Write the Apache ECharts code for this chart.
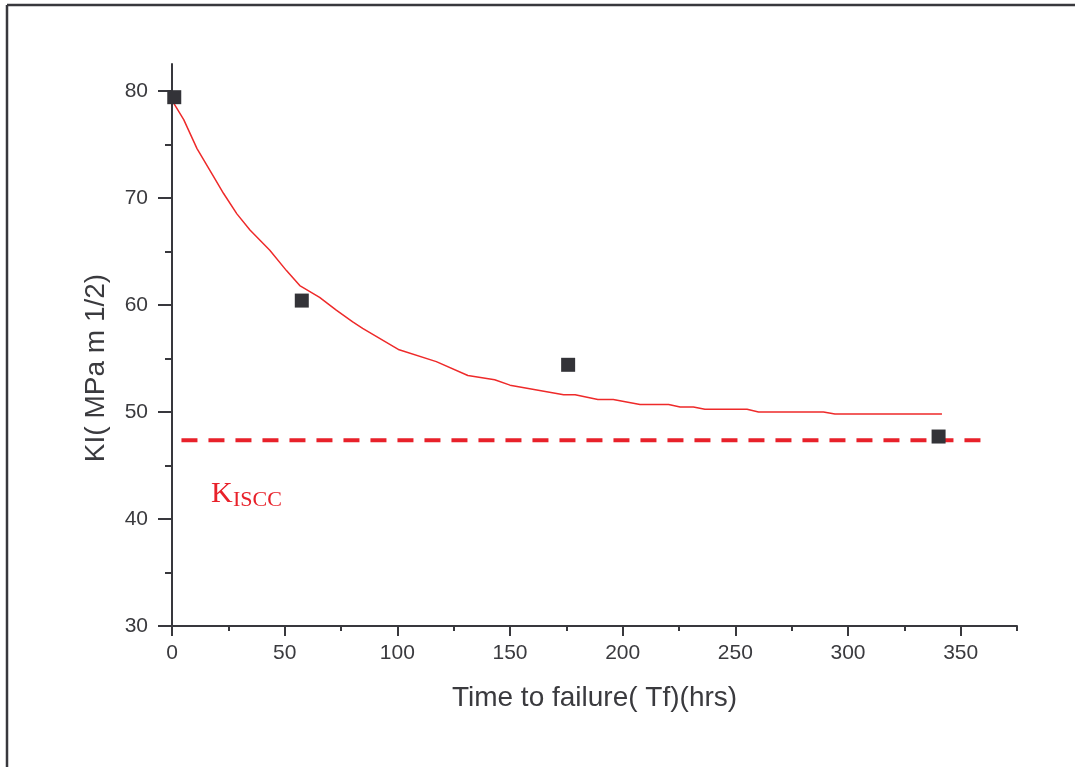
<!DOCTYPE html>
<html>
<head>
<meta charset="utf-8">
<script src="https://cdn.jsdelivr.net/npm/echarts@6/dist/echarts.min.js"></script>
<style>
html,body{margin:0;padding:0;background:#fff;}
#chart{width:1075px;height:767px;}
</style>
</head>
<body>
<div id="chart"></div>
<script>
// Measured data points (Time to failure, KI)
var measuredX = [1, 57.6, 175.8, 340.2];
var measuredY = [79.4, 60.4, 54.4, 47.7];

// Fitted curve
var fitX = [0, 5.2, 11.1, 18.4, 22.9, 28.8, 34.6, 43.4, 50.8, 56.7, 65.5, 72.9, 80.2, 84.6,
            100.8, 117.3, 131.3, 143.2, 150.0, 173.8, 178.9, 189.0, 195.8, 207.7, 220.4,
            225.5, 231.4, 236.5, 255.2, 260.3, 289.1, 294.2, 341.7];
var fitY = [79.1, 77.3, 74.6, 72.0, 70.4, 68.5, 67.0, 65.1, 63.2, 61.8, 60.7, 59.5, 58.4, 57.8,
            55.8, 54.7, 53.4, 53.0, 52.5, 51.6, 51.6, 51.15, 51.15, 50.7, 50.7,
            50.45, 50.45, 50.25, 50.25, 50.0, 50.0, 49.8, 49.8];

// KISCC threshold line
var kisccX = [4.2, 359.6];
var kisccY = [47.35, 47.35];

// Tick labels
var xTicks = [0, 50, 100, 150, 200, 250, 300, 350];
var xMinorTicks = [25, 75, 125, 175, 225, 275, 325, 375];
var yTicks = [30, 40, 50, 60, 70, 80];
var yMinorTicks = [35, 45, 55, 65, 75];

function pairs(xs, ys) {
  var out = [];
  for (var i = 0; i < xs.length; i++) out.push([xs[i], ys[i]]);
  return out;
}

var axisColor = '#38383d';
var labelFont = { fontFamily: 'Liberation Sans, Arial, sans-serif', fontSize: 21, color: '#3a3a3e' };

var chart = echarts.init(document.getElementById('chart'), null, { renderer: 'canvas' });
chart.setOption({
  backgroundColor: '#ffffff',
  animation: false,
  grid: { left: 172, right: 58, top: 64, bottom: 141, containLabel: false },
  xAxis: [{
    type: 'value', min: 0, max: 375,
    name: 'Time to failure( Tf)(hrs)',
    nameLocation: 'middle', nameGap: 58,
    nameTextStyle: { fontFamily: 'Liberation Sans, Arial, sans-serif', fontSize: 28, color: '#3a3a3e' },
    axisLine: { show: true, lineStyle: { color: axisColor, width: 2 } },
    axisTick: { show: true, length: 10, lineStyle: { color: axisColor, width: 2 }, customValues: xTicks },
    axisLabel: Object.assign({ margin: 17, customValues: xTicks }, labelFont),
    splitLine: { show: false }
  }, {
    type: 'value', min: 0, max: 375, position: 'bottom',
    axisLine: { show: false },
    axisTick: { show: true, length: 5, lineStyle: { color: axisColor, width: 2 }, customValues: xMinorTicks },
    axisLabel: { show: false },
    splitLine: { show: false }
  }],
  yAxis: [{
    type: 'value', min: 30, max: 82.5,
    name: 'KI( MPa m 1/2)',
    nameLocation: 'middle', nameGap: 62,
    nameTextStyle: { fontFamily: 'Liberation Sans, Arial, sans-serif', fontSize: 28, color: '#3a3a3e', padding: [0, 46, 0, 0] },
    axisLine: { show: true, lineStyle: { color: axisColor, width: 2 } },
    axisTick: { show: true, length: 14, lineStyle: { color: axisColor, width: 2 }, customValues: yTicks },
    axisLabel: Object.assign({ margin: 24, customValues: yTicks }, labelFont),
    splitLine: { show: false }
  }, {
    type: 'value', min: 30, max: 82.5, position: 'left',
    axisLine: { show: false },
    axisTick: { show: true, length: 7, lineStyle: { color: axisColor, width: 2 }, customValues: yMinorTicks },
    axisLabel: { show: false },
    splitLine: { show: false }
  }],
  series: [{
    type: 'line',
    name: 'KISCC',
    data: pairs(kisccX, kisccY),
    showSymbol: false,
    lineStyle: { color: '#e8212a', width: 4, type: [16, 11] },
    z: 2
  }, {
    type: 'line',
    name: 'fit',
    data: pairs(fitX, fitY),
    showSymbol: false,
    smooth: false,
    lineStyle: { color: '#ee2a2a', width: 1.5 },
    z: 3
  }, {
    type: 'scatter',
    name: 'measured',
    data: pairs(measuredX, measuredY),
    symbol: 'rect',
    symbolSize: 14,
    itemStyle: { color: '#333338', opacity: 1 },
    z: 4
  }],
  graphic: [
    { type: 'line', shape: { x1: 7, y1: 5, x2: 1075, y2: 5 }, style: { stroke: '#38383d', lineWidth: 2.5 } },
    { type: 'line', shape: { x1: 7, y1: 5, x2: 7, y2: 767 }, style: { stroke: '#38383d', lineWidth: 2.5 } },
    { type: 'text', left: 211, top: 479,
      style: { text: 'K', fontFamily: 'Liberation Serif, Times New Roman, serif', fontSize: 30, fill: '#e8212a' } },
    { type: 'text', left: 233, top: 489,
      style: { text: 'ISCC', fontFamily: 'Liberation Serif, Times New Roman, serif', fontSize: 22, fill: '#e8212a' } }
  ]
});
</script>
</body>
</html>
